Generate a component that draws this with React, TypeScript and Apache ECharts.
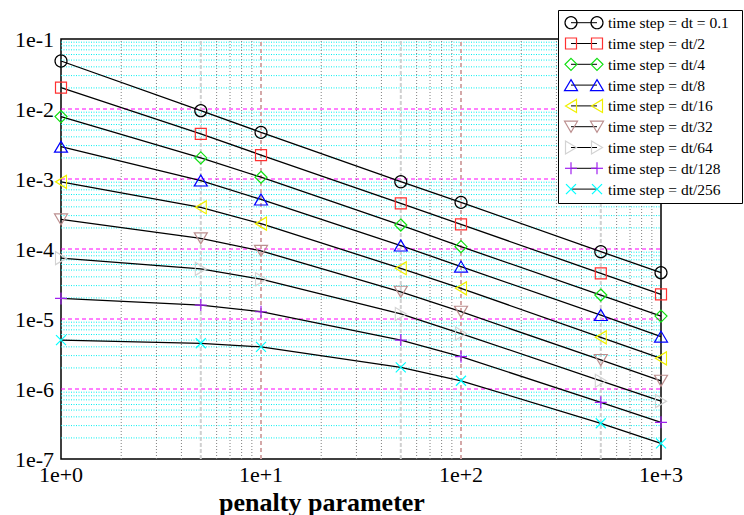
import React, { useEffect, useRef } from 'react';
import * as echarts from 'echarts';

const FONT = "'Liberation Serif', 'Times New Roman', serif";

// penalty parameter values
const xValues = [1, 5, 10, 50, 100, 500, 1000];

const seriesNames = [
  'time step = dt = 0.1',
  'time step = dt/2',
  'time step = dt/4',
  'time step = dt/8',
  'time step = dt/16',
  'time step = dt/32',
  'time step = dt/64',
  'time step = dt/128',
  'time step = dt/256',
];

const errDt = [0.0485, 0.00946, 0.00464, 9.15e-4, 4.64e-4, 9.16e-5, 4.59e-5];
const errDt2 = [0.0202, 0.0044, 0.0022, 4.5e-4, 2.25e-4, 4.49e-5, 2.25e-5];
const errDt4 = [7.8e-3, 2.0e-3, 1.06e-3, 2.2e-4, 1.08e-4, 2.2e-5, 1.1e-5];
const errDt8 = [2.9e-3, 9.5e-4, 5.1e-4, 1.12e-4, 5.6e-5, 1.14e-5, 5.6e-6];
const errDt16 = [9.1e-4, 3.94e-4, 2.3e-4, 5.3e-5, 2.74e-5, 5.47e-6, 2.74e-6];
const errDt32 = [2.65e-4, 1.42e-4, 9.4e-5, 2.45e-5, 1.27e-5, 2.6e-6, 1.31e-6];
const errDt64 = [7.4e-5, 5.2e-5, 3.7e-5, 1.18e-5, 6.2e-6, 1.31e-6, 6.7e-7];
const errDt128 = [1.97e-5, 1.58e-5, 1.27e-5, 5.0e-6, 2.9e-6, 6.45e-7, 3.34e-7];
const errDt256 = [5.0e-6, 4.5e-6, 4.0e-6, 2.04e-6, 1.31e-6, 3.24e-7, 1.67e-7];

const allSeries = [errDt, errDt2, errDt4, errDt8, errDt16, errDt32, errDt64, errDt128, errDt256];

// axis ranges (decade exponents)
const xMinExp = 0;
const xMaxExp = 3;
const yMinExp = -7;
const yMaxExp = -1;

const markerColors = ['#000000', '#ff3030', '#10e010', '#0000ff', '#f0f000', '#bc8f8f', '#d3d3d3', '#a020f0', '#00ffff'];
const markerKinds = ['circle', 'rect', 'diamond', 'up', 'left', 'down', 'right', 'plus', 'cross'];
const symbols = [
  'circle',
  'rect',
  'diamond',
  'triangle',
  'path://M0,5L10,0L10,10Z',
  'path://M0,0L10,0L5,10Z',
  'path://M0,0L10,5L0,10Z',
  'path://M5,0L5,10M0,5L10,5',
  'path://M0,0L10,10M10,0L0,10',
];
const symbolSizes: any[] = [12, 11, 12, [13, 11], [11, 13], [13, 11], [11, 13], 12, 10];

function expLabel(v: number) {
  const e = Math.round(Math.log10(v));
  return '1e' + (e >= 0 ? '+' + e : String(e));
}

function markerEls(kind: string, cx: number, cy: number, color: string): any[] {
  const style = { stroke: color, fill: 'none', lineWidth: 1.2 };
  const poly = (pts: number[][]) => [{ type: 'polygon', z: 102, shape: { points: pts }, style }];
  switch (kind) {
    case 'circle':
      return [{ type: 'circle', z: 102, shape: { cx, cy, r: 6 }, style }];
    case 'rect':
      return [{ type: 'rect', z: 102, shape: { x: cx - 5.5, y: cy - 5.5, width: 11, height: 11 }, style }];
    case 'diamond':
      return poly([[cx, cy - 6], [cx + 6, cy], [cx, cy + 6], [cx - 6, cy]]);
    case 'up':
      return poly([[cx, cy - 5.5], [cx + 6.5, cy + 5.5], [cx - 6.5, cy + 5.5]]);
    case 'left':
      return poly([[cx - 5.5, cy], [cx + 5.5, cy - 6.5], [cx + 5.5, cy + 6.5]]);
    case 'down':
      return poly([[cx - 6.5, cy - 5.5], [cx + 6.5, cy - 5.5], [cx, cy + 5.5]]);
    case 'right':
      return poly([[cx + 5.5, cy], [cx - 5.5, cy - 6.5], [cx - 5.5, cy + 6.5]]);
    case 'plus':
      return [
        { type: 'line', z: 102, shape: { x1: cx, y1: cy - 6, x2: cx, y2: cy + 6 }, style },
        { type: 'line', z: 102, shape: { x1: cx - 6, y1: cy, x2: cx + 6, y2: cy }, style },
      ];
    default:
      return [
        { type: 'line', z: 102, shape: { x1: cx - 5, y1: cy - 5, x2: cx + 5, y2: cy + 5 }, style },
        { type: 'line', z: 102, shape: { x1: cx + 5, y1: cy - 5, x2: cx - 5, y2: cy + 5 }, style },
      ];
  }
}

function gridSeries(points: number[][], lineStyle: any) {
  return {
    type: 'line',
    data: points,
    symbol: 'none',
    silent: true,
    z: 1,
    clip: true,
    lineStyle,
    emphasis: { disabled: true },
    tooltip: { show: false },
  };
}

export default function App() {
  const ref = useRef<HTMLDivElement>(null);
  useEffect(() => {
    document.body.style.margin = '0';
    const chart = echarts.init(ref.current!, null, { renderer: 'svg' });

    const xLo = Math.pow(10, xMinExp);
    const xHi = Math.pow(10, xMaxExp);
    const yLo = Math.pow(10, yMinExp);
    const yHi = Math.pow(10, yMaxExp);

    const series: any[] = [];
    // horizontal minor grid (cyan dotted) and major grid (magenta dashed)
    for (let e = yMinExp; e < yMaxExp; e++) {
      for (let m = 2; m <= 9; m++) {
        const v = m * Math.pow(10, e);
        series.push(gridSeries([[xLo, v], [xHi, v]], { color: '#00f0f0', width: 1, type: [1, 1.5] }));
      }
    }
    for (let e = yMinExp + 1; e < yMaxExp; e++) {
      const v = Math.pow(10, e);
      series.push(gridSeries([[xLo, v], [xHi, v]], { color: '#ff00ff', width: 1, type: [4, 3] }));
    }
    // vertical grid
    for (let e = xMinExp; e < xMaxExp; e++) {
      for (let m = 2; m <= 9; m++) {
        const v = m * Math.pow(10, e);
        if (m === 5) {
          series.push(gridSeries([[v, yLo], [v, yHi]], { color: '#d0d0d0', width: 2, type: [4, 2] }));
        } else {
          series.push(gridSeries([[v, yLo], [v, yHi]], { color: '#808080', width: 1, type: [1, 2] }));
        }
      }
    }
    for (let e = xMinExp + 1; e < xMaxExp; e++) {
      const v = Math.pow(10, e);
      series.push(gridSeries([[v, yLo], [v, yHi]], { color: '#d4a8a8', width: 2, type: [4, 3] }));
    }

    allSeries.forEach((vals, i) => {
      series.push({
        type: 'line',
        name: seriesNames[i],
        data: xValues.map((x, j) => [x, vals[j]]),
        z: 3 + i,
        clip: false,
        symbol: symbols[i],
        symbolSize: symbolSizes[i],
        showSymbol: true,
        showAllSymbol: true,
        lineStyle: { color: '#000', width: 1.3 },
        itemStyle: { color: 'rgba(0,0,0,0)', borderColor: markerColors[i], borderWidth: 1.2 },
        emphasis: { disabled: true },
      });
    });

    const legendEls: any[] = [
      {
        type: 'rect',
        z: 100,
        shape: { x: 558.5, y: 10.5, width: 184, height: 193 },
        style: { fill: '#fff', stroke: '#000', lineWidth: 1 },
      },
    ];
    seriesNames.forEach((name, i) => {
      const cy = 22.7 + i * 20.8;
      legendEls.push({
        type: 'line',
        z: 101,
        shape: { x1: 571, y1: cy, x2: 597, y2: cy },
        style: { stroke: '#000', lineWidth: 1 },
      });
      legendEls.push(...markerEls(markerKinds[i], 571, cy, markerColors[i]));
      legendEls.push(...markerEls(markerKinds[i], 597, cy, markerColors[i]));
      legendEls.push({
        type: 'text',
        z: 102,
        x: 608,
        y: cy,
        style: {
          text: name,
          fontSize: 15.5,
          fontFamily: FONT,
          fill: '#000',
          verticalAlign: 'middle',
        },
      });
    });

    const option: any = {
      animation: false,
      backgroundColor: '#fff',
      grid: {
        left: 61,
        right: 83,
        top: 39,
        bottom: 56,
        show: true,
        borderColor: '#000',
        borderWidth: 1.5,
        backgroundColor: 'transparent',
        containLabel: false,
        outerBoundsMode: 'none',
      },
      xAxis: {
        type: 'log',
        logBase: 10,
        min: xLo,
        max: xHi,
        splitNumber: 3,
        axisLine: { show: false },
        axisTick: { show: false },
        splitLine: { show: false },
        axisLabel: {
          formatter: expLabel,
          fontSize: 22,
          fontFamily: FONT,
          color: '#000',
          margin: 4,
          showMinLabel: true,
          showMaxLabel: true,
        },
        name: 'penalty parameter',
        nameLocation: 'middle',
        nameGap: 25,
        nameTextStyle: {
          fontSize: 26,
          fontWeight: 'bold',
          fontFamily: FONT,
          color: '#000',
          padding: [0, 78, 0, 0],
        },
      },
      yAxis: {
        type: 'log',
        logBase: 10,
        min: yLo,
        max: yHi,
        splitNumber: 6,
        axisLine: { show: false },
        axisTick: { show: false },
        splitLine: { show: false },
        axisLabel: {
          formatter: expLabel,
          fontSize: 22,
          fontFamily: FONT,
          color: '#000',
          margin: 7,
          padding: [4, 0, 0, 0],
          showMinLabel: true,
          showMaxLabel: true,
        },
      },
      series,
      graphic: { elements: legendEls },
    };
    chart.setOption(option);
    return () => chart.dispose();
  }, []);
  return <div ref={ref} style={{ width: 744, height: 515 }} />;
}
